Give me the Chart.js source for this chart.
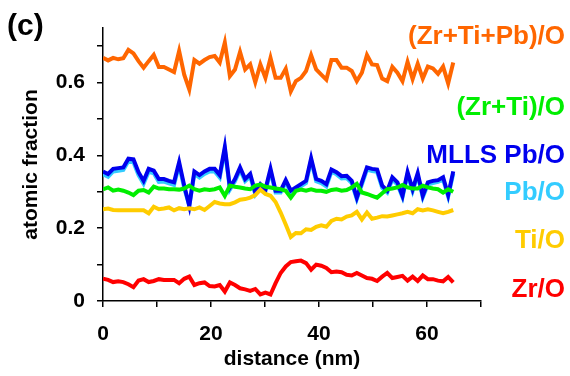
<!DOCTYPE html>
<html>
<head>
<meta charset="utf-8">
<script src="https://cdn.jsdelivr.net/npm/chart.js@4/dist/chart.umd.min.js"></script>
<style>
  html, body { margin: 0; padding: 0; background: #fff; }
  #wrap { width: 570px; height: 376px; }
</style>
</head>
<body>
<div id="wrap"><canvas id="c" width="570" height="376"></canvas></div>
<script>
const distance = [0,0.94,1.88,2.82,3.76,4.7,5.64,6.58,7.52,8.46,9.4,10.34,11.28,12.22,13.16,14.1,15.04,15.98,16.92,17.86,18.8,19.74,20.68,21.62,22.56,23.5,24.44,25.38,26.32,27.26,28.2,29.14,30.08,31.02,31.96,32.9,33.84,34.78,35.72,36.66,37.6,38.54,39.48,40.42,41.36,42.3,43.24,44.18,45.12,46.06,47,47.94,48.88,49.82,50.76,51.7,52.64,53.58,54.52,55.46,56.4,57.34,58.28,59.22,60.16,61.1,62.04,62.98,63.92,64.86];

const zrTiPbO = [0.668,0.661,0.668,0.664,0.667,0.690,0.680,0.659,0.641,0.659,0.676,0.643,0.643,0.636,0.629,0.687,0.622,0.581,0.662,0.652,0.662,0.670,0.673,0.655,0.710,0.618,0.636,0.684,0.636,0.650,0.601,0.650,0.613,0.668,0.613,0.613,0.638,0.576,0.604,0.613,0.632,0.675,0.636,0.622,0.608,0.662,0.662,0.641,0.641,0.632,0.604,0.627,0.676,0.650,0.648,0.611,0.604,0.643,0.627,0.604,0.657,0.610,0.652,0.611,0.644,0.639,0.624,0.644,0.598,0.655];

const zrTiO = [0.307,0.312,0.303,0.306,0.303,0.298,0.291,0.303,0.305,0.298,0.314,0.309,0.309,0.307,0.307,0.306,0.309,0.317,0.307,0.303,0.307,0.305,0.307,0.312,0.289,0.317,0.314,0.312,0.309,0.307,0.317,0.320,0.314,0.312,0.309,0.307,0.303,0.284,0.303,0.306,0.303,0.307,0.303,0.303,0.300,0.305,0.307,0.303,0.305,0.312,0.322,0.298,0.294,0.289,0.284,0.296,0.307,0.309,0.312,0.319,0.312,0.309,0.309,0.317,0.312,0.309,0.307,0.298,0.307,0.300];

const mllsPbO = [0.356,0.349,0.363,0.365,0.367,0.391,0.389,0.354,0.330,0.363,0.358,0.335,0.335,0.330,0.326,0.381,0.317,0.261,0.356,0.346,0.356,0.363,0.363,0.346,0.423,0.312,0.335,0.367,0.335,0.349,0.298,0.321,0.307,0.363,0.303,0.303,0.332,0.303,0.312,0.321,0.330,0.392,0.335,0.330,0.321,0.361,0.354,0.343,0.344,0.330,0.284,0.326,0.367,0.363,0.361,0.317,0.303,0.340,0.326,0.289,0.354,0.307,0.351,0.289,0.326,0.330,0.332,0.340,0.291,0.356];

const pbO = [0.348,0.341,0.356,0.358,0.360,0.384,0.381,0.346,0.322,0.355,0.351,0.327,0.328,0.323,0.319,0.374,0.310,0.262,0.349,0.339,0.349,0.356,0.356,0.339,0.416,0.306,0.329,0.360,0.329,0.342,0.293,0.315,0.301,0.356,0.298,0.298,0.326,0.298,0.306,0.315,0.324,0.386,0.329,0.324,0.315,0.355,0.348,0.337,0.338,0.324,0.280,0.320,0.361,0.357,0.355,0.311,0.298,0.334,0.320,0.285,0.348,0.302,0.345,0.285,0.320,0.324,0.327,0.334,0.287,0.350];

const tiO = [0.252,0.254,0.250,0.249,0.249,0.249,0.249,0.249,0.249,0.241,0.259,0.252,0.254,0.257,0.249,0.255,0.252,0.255,0.252,0.257,0.250,0.261,0.272,0.268,0.266,0.266,0.271,0.278,0.280,0.284,0.291,0.306,0.294,0.289,0.272,0.243,0.210,0.176,0.187,0.186,0.197,0.195,0.204,0.208,0.204,0.220,0.226,0.224,0.232,0.235,0.245,0.224,0.243,0.226,0.229,0.233,0.232,0.235,0.238,0.241,0.245,0.241,0.252,0.249,0.252,0.249,0.245,0.241,0.245,0.250];

const zrO = [0.061,0.058,0.052,0.054,0.052,0.046,0.038,0.056,0.060,0.052,0.055,0.060,0.058,0.058,0.058,0.049,0.061,0.067,0.044,0.049,0.051,0.041,0.040,0.044,0.026,0.051,0.044,0.035,0.032,0.028,0.033,0.018,0.023,0.018,0.049,0.077,0.095,0.107,0.109,0.111,0.104,0.086,0.100,0.097,0.091,0.079,0.081,0.079,0.072,0.070,0.077,0.070,0.063,0.061,0.055,0.067,0.077,0.063,0.066,0.069,0.056,0.067,0.055,0.070,0.060,0.060,0.056,0.054,0.066,0.051];

const seriesNames = ['(Zr+Ti+Pb)/O','(Zr+Ti)/O','MLLS Pb/O','Pb/O','Ti/O','Zr/O'];
const seriesColors = ['#FF6600','#00EE00','#0000EE','#33CCFF','#FFCC00','#FF0000'];
const xTickLabels = [0,20,40,60];
const yTickLabels = ['0','0.2','0.4','0.6'];

const FONT = "'Liberation Sans', Arial, sans-serif";

function pts(arr) { return distance.map((x, i) => ({ x: x, y: arr[i] })); }

const seriesData = [zrTiPbO, zrTiO, mllsPbO, pbO, tiO, zrO];
const drawOrder = [5, 2, 3, 4, 1, 6]; // larger order drawn first (underneath)
const datasets = seriesData.map((arr, i) => ({
  label: seriesNames[i],
  data: pts(arr),
  borderColor: seriesColors[i],
  backgroundColor: seriesColors[i],
  borderWidth: 4,
  pointRadius: 0,
  tension: 0,
  fill: false,
  order: drawOrder[i]
}));

const labelY = [37, 108, 156, 193, 241, 290];

const labelPlugin = {
  id: 'sideLabels',
  afterDraw(chart) {
    const ctx = chart.ctx;
    ctx.save();
    ctx.font = "bold 26px " + FONT;
    ctx.textAlign = 'right';
    ctx.textBaseline = 'middle';
    seriesNames.forEach((name, i) => {
      ctx.fillStyle = seriesColors[i];
      ctx.fillText(name, 565, labelY[i]);
    });
    ctx.fillStyle = '#000';
    ctx.textAlign = 'left';
    ctx.font = "bold 30px " + FONT;
    ctx.fillText('(c)', 7, 27);
    ctx.restore();
  }
};

new Chart(document.getElementById('c'), {
  type: 'line',
  data: { datasets: datasets },
  plugins: [labelPlugin],
  options: {
    responsive: false,
    animation: false,
    devicePixelRatio: 1,
    layout: { padding: { top: 28, right: 89, left: 0, bottom: 0 } },
    plugins: { legend: { display: false }, tooltip: { enabled: false } },
    scales: {
      x: {
        type: 'linear',
        min: 0, max: 70,
        afterFit(s) { s.height = 75; },
        ticks: {
          stepSize: 10,
          autoSkip: false,
          maxRotation: 0,
          padding: 15,
          color: '#000',
          font: { family: FONT, size: 21, weight: 'bold' },
          callback: (v) => xTickLabels.includes(v) ? String(v) : ''
        },
        grid: { drawOnChartArea: false, drawTicks: true, tickLength: 6, color: '#000', lineWidth: 1.5 },
        border: { display: true, color: '#000', width: 1.5 },
        title: {
          display: true, text: 'distance (nm)', color: '#000',
          font: { family: FONT, size: 21, weight: 'bold' },
          padding: { top: 0, bottom: 4 }
        }
      },
      y: {
        type: 'linear',
        min: 0, max: 0.75,
        afterFit(s) { s.width = 103; },
        ticks: {
          stepSize: 0.1,
          includeBounds: false,
          autoSkip: false,
          padding: 12,
          color: '#000',
          font: { family: FONT, size: 21, weight: 'bold' },
          callback: (v) => {
            const r = Math.round(v * 10);
            const s = r === 0 ? '0' : (r / 10).toFixed(1);
            return yTickLabels.includes(s) ? s : '';
          }
        },
        grid: { drawOnChartArea: false, drawTicks: true, tickLength: 6, color: '#000', lineWidth: 1.5 },
        border: { display: true, color: '#000', width: 1.5 },
        title: {
          display: true, text: 'atomic fraction', color: '#000',
          font: { family: FONT, size: 21, weight: 'bold' },
          padding: { top: 19, bottom: 0 }
        }
      }
    }
  }
});
</script>
</body>
</html>
